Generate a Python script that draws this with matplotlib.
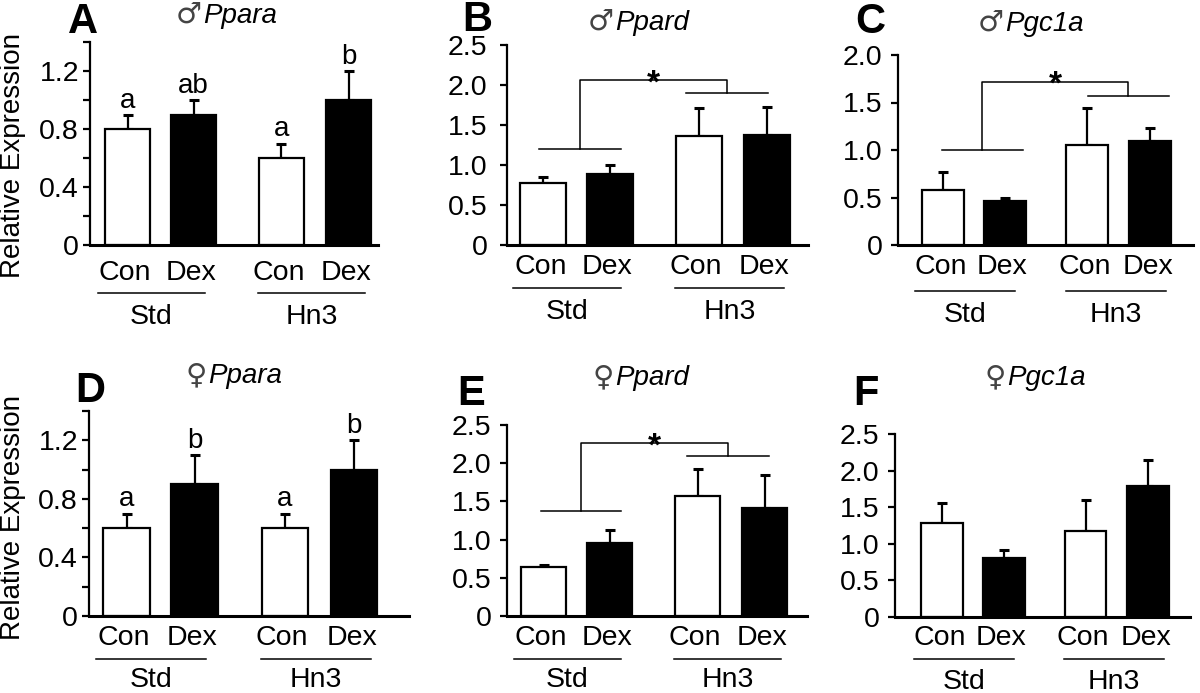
import numpy as np
import matplotlib.pyplot as plt
from matplotlib import transforms

plt.rcParams['font.family'] = ['Liberation Sans', 'DejaVu Sans']

W, H = 1200, 693

# bar order: Con/Std, Dex/Std, Con/Hn3, Dex/Hn3
treat_labels = ['Con', 'Dex', 'Con', 'Dex']
diet_labels = ['Std', 'Hn3']
bar_colors = ['white', 'black', 'white', 'black']

panel_letters = ['A', 'B', 'C', 'D', 'E', 'F']
sex_symbols = ['\u2642', '\u2642', '\u2642', '\u2640', '\u2640', '\u2640']
genes = ['Ppara', 'Ppard', 'Pgc1a', 'Ppara', 'Ppard', 'Pgc1a']

means = [
    [0.80, 0.90, 0.60, 1.00],
    [0.78, 0.89, 1.36, 1.37],
    [0.58, 0.46, 1.05, 1.10],
    [0.60, 0.90, 0.60, 1.00],
    [0.64, 0.95, 1.57, 1.42],
    [1.29, 0.80, 1.18, 1.79],
]
errs = [
    [0.10, 0.10, 0.10, 0.20],
    [0.07, 0.11, 0.35, 0.35],
    [0.19, 0.04, 0.39, 0.13],
    [0.10, 0.20, 0.10, 0.20],
    [0.03, 0.18, 0.35, 0.42],
    [0.27, 0.12, 0.42, 0.35],
]
sig_letters = [
    ['a', 'ab', 'a', 'b'],
    None, None,
    ['a', 'b', 'a', 'b'],
    None, None,
]
y_max = [1.4, 2.5, 2.0, 1.4, 2.5, 2.5]
y_major = [0.4, 0.5, 0.5, 0.4, 0.5, 0.5]

# significance brackets: (std line level, top level, hn3 line level)
bracket_levels = [None, (1.2, 2.06, 1.9), (1.0, 1.72, 1.57),
                  None, (1.37, 2.26, 2.09), None]
bracket_spans = [None, ((-0.06, 1.17), (2.14, 3.36)), ((-0.02, 1.29), (2.34, 3.65)),
                 None, ((-0.04, 1.18), (2.17, 3.41)), None]

xpos = np.array([0, 1, 2.33, 3.35])
bar_w = 0.68

# layout in pixels: axis x, right end, y of zero, y of top, first bar centre, unit
layout = [
    (90, 378, 245, 42, 127.5, 66.0),
    (507, 808, 245, 45, 543, 66.9),
    (898, 1193, 245, 55, 943, 61.9),
    (89, 409, 616, 411, 126.5, 68.0),
    (507, 807, 616, 425, 543.5, 66.1),
    (895, 1190, 617, 434, 942, 61.6),
]
tick_pad = [3, 9, 6, 3, 6, 6]
below = [(28, 48, 72), (22, 43, 67), (22, 46, 70), (22, 43, 64), (22, 43, 64), (21, 42, 65)]
title_pos = [(202, 23), (614, 30), (1004, 31), (207, 383), (614, 385), (1006, 385)]
letter_pos = [(68, 33), (462, 31), (855, 33), (75, 402), (457, 405), (853, 405)]


def fx(x):
    return x / W


def fy(y):
    return 1 - y / H


fig = plt.figure(figsize=(12, 6.93), dpi=100)

for i in range(6):
    ax_x, right_x, y0, ytop, c0, u = layout[i]
    ax = fig.add_axes([fx(ax_x), fy(y0), (right_x - ax_x) / W, (y0 - ytop) / H])
    ax.set_xlim((ax_x - c0) / u, (right_x - c0) / u)
    ax.set_ylim(0, y_max[i])

    ax.bar(xpos, means[i], width=bar_w, color=bar_colors, edgecolor='black',
           linewidth=1.6, zorder=3)
    ax.errorbar(xpos, means[i], yerr=[np.zeros(4), errs[i]], fmt='none',
                ecolor='black', elinewidth=1.6, capsize=3.5, capthick=2.2, zorder=2)

    for s in ['top', 'right']:
        ax.spines[s].set_visible(False)
    ax.spines['left'].set_linewidth(1.6)
    ax.spines['bottom'].set_linewidth(2.2)
    ax.spines['bottom'].set_zorder(4)
    ax.set_xticks([])

    step = y_major[i]
    ticks = np.arange(0, y_max[i] + 1e-6, step)
    ax.set_yticks(ticks)
    ax.set_yticklabels(['0' if t == 0 else f'{t:.1f}' for t in ticks])
    ax.tick_params(axis='y', direction='out', length=5, width=1.6,
                   labelsize=20.5, pad=tick_pad[i])
    if step == 0.4:
        ax.set_yticks(np.arange(0.2, y_max[i] + 1e-6, 0.4), minor=True)
        ax.tick_params(axis='y', which='minor', direction='out', length=5, width=1.6)

    # significance letters
    if sig_letters[i] is not None:
        for x, m, e, s in zip(xpos, means[i], errs[i], sig_letters[i]):
            tr = transforms.offset_copy(ax.transData, fig, x=0, y=7, units='dots')
            ax.text(x, m + e, s, ha='center', va='baseline', fontsize=20,
                    transform=tr)

    # brackets
    if bracket_levels[i] is not None:
        lo, top, hi = bracket_levels[i]
        (s0, s1), (h0, h1) = bracket_spans[i]
        sm, hm = (s0 + s1) / 2, (h0 + h1) / 2
        kw = dict(color='black', lw=1.1, clip_on=False)
        ax.plot([s0, s1], [lo, lo], **kw)
        ax.plot([h0, h1], [hi, hi], **kw)
        ax.plot([sm, sm, hm, hm], [lo, top, top, hi], **kw)
        tr = transforms.offset_copy(ax.transData, fig, x=0, y=-12, units='dots')
        ax.text((sm + hm) / 2, top, '*', ha='center', va='baseline',
                fontsize=24, fontweight='bold', transform=tr)

    # labels under the axis
    d1, d2, d3 = below[i]
    tr1 = transforms.offset_copy(ax.get_xaxis_transform(), fig, x=0, y=-d1, units='dots')
    tr2 = transforms.offset_copy(ax.get_xaxis_transform(), fig, x=0, y=-d2, units='dots')
    tr3 = transforms.offset_copy(ax.get_xaxis_transform(), fig, x=0, y=-d3, units='dots')
    for x, t in zip(xpos, treat_labels):
        ax.text(x - 0.04, 0, t, ha='center', va='center', fontsize=20.5,
                transform=tr1, clip_on=False)
    for g, (a, b) in enumerate([(-0.45, 1.17), (1.98, 3.6)]):
        ax.plot([a, b], [0, 0], color='black', lw=1.1, transform=tr2, clip_on=False)
        ax.text((a + b) / 2, 0, diet_labels[g], ha='center', va='center',
                fontsize=20.5, transform=tr3, clip_on=False)

    # title: sex symbol + italic gene name
    tx, ty = title_pos[i]
    fig.text(fx(tx), fy(ty), sex_symbols[i], ha='right', va='baseline',
             fontsize=21, family=['DejaVu Sans'], color='#444444')
    fig.text(fx(tx + 1), fy(ty), genes[i], ha='left', va='baseline',
             fontsize=20, style='italic')

    lx, ly = letter_pos[i]
    fig.text(fx(lx), fy(ly), panel_letters[i], ha='left', va='baseline',
             fontsize=30, fontweight='bold')

fig.text(fx(13), fy(155), 'Relative Expression', rotation=90, ha='center',
         va='center', fontsize=20)
fig.text(fx(13), fy(518), 'Relative Expression', rotation=90, ha='center',
         va='center', fontsize=20)

fig.savefig('out.png', dpi=100)
